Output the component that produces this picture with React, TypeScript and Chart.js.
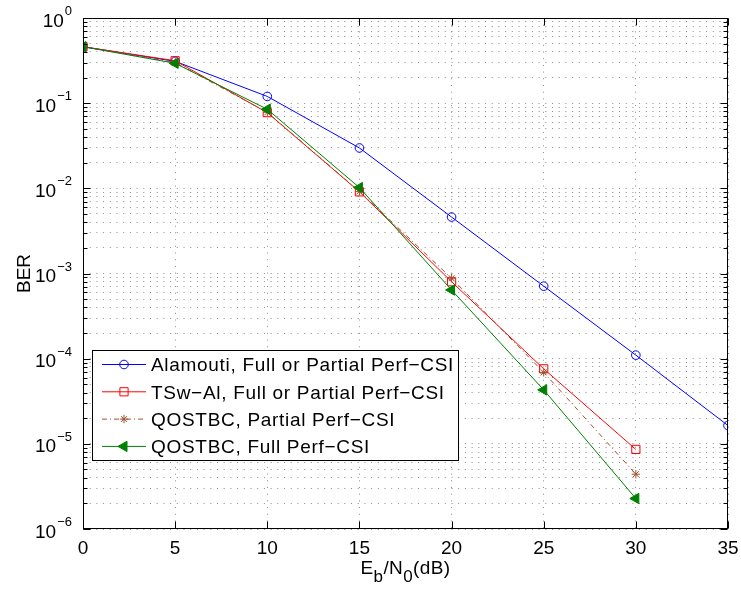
import React, { useEffect, useRef } from "react";
import { Chart, registerables } from "chart.js";
import { drawPoint } from "chart.js/helpers";

Chart.register(...registerables);

// ---- Data ----
const ebn0 = [0, 5, 10, 15, 20, 25, 30, 35];
const berAlamouti = [0.46, 0.31, 0.12, 0.0298, 0.0046, 7.1e-4, 1.1e-4, 1.64e-5];
const berTSwAl = [0.46, 0.315, 0.0774, 0.0091, 8.0e-4, 7.6e-5, 8.6e-6];
const berQostbcPartial = [0.46, 0.3, 0.078, 0.0092, 8.8e-4, 6.9e-5, 4.4e-6];
const berQostbcFull = [0.46, 0.294, 0.0848, 0.0102, 6.4e-4, 4.3e-5, 2.28e-6];

const seriesLabels = [
  "Alamouti, Full or Partial Perf\u2212CSI",
  "TSw\u2212Al, Full or Partial Perf\u2212CSI",
  "QOSTBC, Partial Perf\u2212CSI",
  "QOSTBC, Full Perf\u2212CSI",
];
const xTickValues = [0, 5, 10, 15, 20, 25, 30, 35];
const yDecadeExponents = [0, -1, -2, -3, -4, -5, -6];
const yMinorMultipliers = [2, 3, 4, 5, 6, 7, 8, 9];

const FONT = '"Liberation Sans", Arial, Helvetica, sans-serif';
const MAIN = 19;

type Style = {
  color: string;
  fill: string;
  pointStyle: string;
  radius: number;
  rotation: number;
  dash: number[];
};
const styles: Style[] = [
  { color: "#0000FF", fill: "rgba(0,0,0,0)", pointStyle: "circle", radius: 4.3, rotation: 0, dash: [] },
  { color: "#FF0000", fill: "rgba(0,0,0,0)", pointStyle: "rect", radius: 5.8, rotation: 0, dash: [] },
  { color: "#A0522D", fill: "rgba(0,0,0,0)", pointStyle: "star", radius: 4.2, rotation: 0, dash: [5, 3, 1, 3] },
  { color: "#008000", fill: "#008000", pointStyle: "triangle", radius: 6, rotation: -90, dash: [] },
];
const seriesData = [berAlamouti, berTSwAl, berQostbcPartial, berQostbcFull];

function spacedText(ctx: CanvasRenderingContext2D, text: string, x: number, y: number, sp: number) {
  let cx = x;
  for (const ch of text) {
    ctx.fillText(ch, cx, y);
    cx += ctx.measureText(ch).width + sp;
  }
  return cx - x;
}

const axisDecorPlugin = {
  id: "axisDecor",
  afterDraw(chart: any) {
    const ctx = chart.ctx as CanvasRenderingContext2D;
    const { left, right, top, bottom } = chart.chartArea;
    const xs = chart.scales.x;
    const ys = chart.scales.y;
    ctx.save();
    // box
    ctx.strokeStyle = "#000";
    ctx.lineWidth = 1;
    ctx.setLineDash([]);
    const L = Math.round(left) + 0.5;
    const R = Math.round(right) - 0.5;
    const T = Math.round(top) + 0.5;
    const B = Math.round(bottom) - 0.5;
    ctx.strokeRect(L, T, R - L, B - T);
    // x ticks (inward, top & bottom)
    ctx.beginPath();
    xTickValues.forEach((v) => {
      const px = Math.round(xs.getPixelForValue(v)) + 0.5;
      ctx.moveTo(px, B);
      ctx.lineTo(px, B - 7);
      ctx.moveTo(px, T);
      ctx.lineTo(px, T + 7);
    });
    // y ticks
    yDecadeExponents.forEach((e) => {
      const py = Math.round(ys.getPixelForValue(Math.pow(10, e))) + 0.5;
      ctx.moveTo(L, py);
      ctx.lineTo(L + 7, py);
      ctx.moveTo(R, py);
      ctx.lineTo(R - 7, py);
      if (e > -6) {
        yMinorMultipliers.forEach((m) => {
          const pm = Math.round(ys.getPixelForValue(m * Math.pow(10, e - 1))) + 0.5;
          ctx.moveTo(L, pm);
          ctx.lineTo(L + 4, pm);
          ctx.moveTo(R, pm);
          ctx.lineTo(R - 4, pm);
        });
      }
    });
    ctx.stroke();

    // y tick labels 10^e
    ctx.fillStyle = "#000";
    ctx.textAlign = "left";
    ctx.textBaseline = "alphabetic";
    yDecadeExponents.forEach((e) => {
      const py = ys.getPixelForValue(Math.pow(10, e));
      const expText = e === 0 ? "0" : "\u2212" + Math.abs(e);
      ctx.font = `13px ${FONT}`;
      const ew = ctx.measureText(expText).width;
      ctx.font = `${MAIN}px ${FONT}`;
      const bw = ctx.measureText("10").width;
      const rightEdge = left - 11;
      ctx.fillText("10", rightEdge - ew - bw - 1, py + 8.5);
      ctx.font = `13px ${FONT}`;
      ctx.fillText(expText, rightEdge - ew, py - 3);
    });

    // x tick labels
    ctx.font = `${MAIN}px ${FONT}`;
    ctx.textAlign = "center";
    xTickValues.forEach((v) => {
      ctx.fillText(String(v), xs.getPixelForValue(v), bottom + 24.5);
    });

    // x title E_b/N_0(dB)
    const parts: [string, boolean][] = [
      ["E", false],
      ["b", true],
      ["/", false],
      ["N", false],
      ["0", true],
      ["(dB)", false],
    ];
    const sp = 0.4;
    let total = 0;
    const widths = parts.map(([t, sub]) => {
      ctx.font = `${sub ? 17 : MAIN}px ${FONT}`;
      let w = 0;
      for (const ch of t) w += ctx.measureText(ch).width + sp;
      total += w;
      return w;
    });
    let cx = (left + right) / 2 - total / 2;
    ctx.textAlign = "left";
    parts.forEach(([t, sub], i) => {
      ctx.font = `${sub ? 17 : MAIN}px ${FONT}`;
      spacedText(ctx, t, cx, sub ? bottom + 52.5 : bottom + 44.5, sp);
      cx += widths[i];
    });

    // y title
    ctx.save();
    ctx.translate(30, (top + bottom) / 2);
    ctx.rotate(-Math.PI / 2);
    ctx.font = `${MAIN}px ${FONT}`;
    ctx.textAlign = "center";
    ctx.fillText("BER", 0, 0);
    ctx.restore();

    // legend
    const bx = Math.round(left + 9) + 0.5;
    const by = 350.5;
    const bw2 = 366;
    const bh = 110;
    ctx.fillStyle = "#fff";
    ctx.fillRect(bx, by, bw2, bh);
    ctx.strokeStyle = "#000";
    ctx.lineWidth = 1;
    ctx.setLineDash([]);
    ctx.strokeRect(bx, by, bw2, bh);
    const rowsY = [364.5, 391.8, 419.1, 446.4];
    seriesLabels.forEach((lab, i) => {
      const s = styles[i];
      const ry = rowsY[i];
      ctx.strokeStyle = s.color;
      ctx.lineWidth = 1;
      ctx.setLineDash(s.dash);
      ctx.beginPath();
      ctx.moveTo(left + 19, ry);
      ctx.lineTo(left + 63, ry);
      ctx.stroke();
      ctx.setLineDash([]);
      ctx.fillStyle = s.fill;
      drawPoint(
        ctx,
        { pointStyle: s.pointStyle as any, radius: s.radius, rotation: s.rotation, borderWidth: 1 } as any,
        left + 41,
        ry
      );
      ctx.fillStyle = "#000";
      ctx.font = `${MAIN}px ${FONT}`;
      ctx.textAlign = "left";
      spacedText(ctx, lab, left + 68, ry + 6.8, 0.7);
    });
    ctx.restore();
  },
};

export default function App() {
  const canvasRef = useRef<HTMLCanvasElement | null>(null);

  useEffect(() => {
    if (!canvasRef.current) return;
    const yGridValues: number[] = [];
    yDecadeExponents.forEach((e) => {
      yGridValues.push(Math.pow(10, e));
      if (e > -6) yMinorMultipliers.forEach((m) => yGridValues.push(m * Math.pow(10, e - 1)));
    });
    const datasets = seriesData.map((arr, i) => {
      const s = styles[i];
      return {
        label: seriesLabels[i],
        data: arr.map((v, j) => ({ x: ebn0[j], y: v })),
        borderColor: s.color,
        backgroundColor: s.fill,
        borderWidth: 1,
        borderDash: s.dash,
        pointStyle: s.pointStyle as any,
        pointRadius: s.radius,
        pointRotation: s.rotation,
        pointBorderColor: s.color,
        pointBackgroundColor: s.fill,
        pointBorderWidth: 1,
        tension: 0,
        fill: false,
        order: 4 - i,
      };
    });
    const gridColor = "rgba(0,0,0,0.45)";
    const chart = new Chart(canvasRef.current, {
      type: "line",
      data: { datasets },
      options: {
        animation: false,
        responsive: true,
        maintainAspectRatio: false,
        layout: { padding: { left: 0, right: 13, top: 18, bottom: 0 } },
        plugins: { legend: { display: false }, tooltip: { enabled: false } },
        scales: {
          x: {
            type: "linear",
            min: 0,
            max: 35,
            ticks: { stepSize: 5, display: false },
            grid: { color: gridColor, lineWidth: 1, drawTicks: false },
            border: { display: false, dash: [1, 5.7] },
            afterFit: (s: any) => {
              s.height = 61;
            },
          },
          y: {
            type: "logarithmic",
            min: 1e-6,
            max: 1,
            ticks: { display: false },
            afterBuildTicks: (s: any) => {
              s.ticks = yGridValues.map((v) => ({ value: v }));
            },
            grid: { color: gridColor, lineWidth: 1, drawTicks: false },
            border: { display: false, dash: [1, 5.7] },
            afterFit: (s: any) => {
              s.width = 83;
            },
          },
        },
      },
      plugins: [axisDecorPlugin],
    });
    return () => chart.destroy();
  }, []);

  return (
    <div style={{ position: "absolute", left: 0, top: 0, width: 741, height: 590, background: "#fff" }}>
      <canvas ref={canvasRef} />
    </div>
  );
}
